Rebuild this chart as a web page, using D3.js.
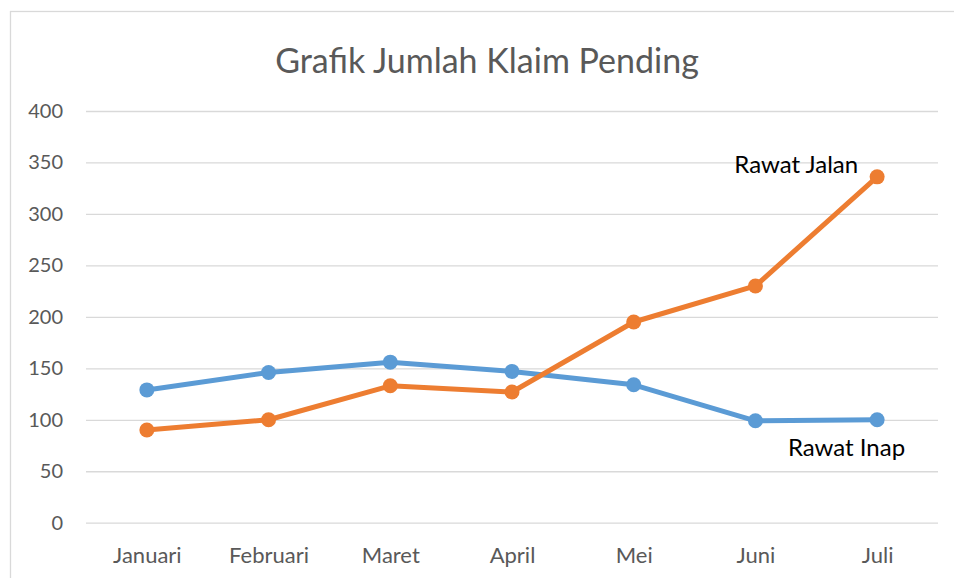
<!DOCTYPE html>
<html>
<head>
<meta charset="utf-8">
<script src="https://cdn.jsdelivr.net/npm/d3@7"></script>
<style>
  body { margin: 0; background: #fff; }
  text { font-family: Lato, "Open Sans", sans-serif; }
</style>
</head>
<body>
<div id="chart"></div>
<script>
// Data
const months = ["Januari", "Februari", "Maret", "April", "Mei", "Juni", "Juli"]
const rawatInap = [129, 146, 156, 147, 134, 99, 100]
const rawatJalan = [90, 100, 133, 127, 195, 230, 336]
const yTicks = [0, 50, 100, 150, 200, 250, 300, 350, 400]

const dimensions = {
    width: 954,
    height: 578,
    margin: { top: 111, right: 16, bottom: 55, left: 86 }
}
dimensions.boundedWidth = dimensions.width - dimensions.margin.left - dimensions.margin.right
dimensions.boundedHeight = 522.7 - dimensions.margin.top

const wrapper = d3.select("#chart")
    .append("svg")
    .attr("width", dimensions.width)
    .attr("height", dimensions.height)

// chart frame
wrapper.append("rect")
    .attr("x", 10.5)
    .attr("y", 11.5)
    .attr("width", 960)
    .attr("height", 600)
    .attr("fill", "#fff")
    .attr("stroke", "#d9d9d9")
    .attr("stroke-width", 1.3)

// title
wrapper.append("text")
    .text("Grafik Jumlah Klaim Pending")
    .attr("x", 487)
    .attr("y", 73)
    .attr("text-anchor", "middle")
    .attr("fill", "#595959")
    .style("font-size", "34px")

const bounds = wrapper.append("g")
    .attr("transform", `translate(${dimensions.margin.left},${dimensions.margin.top})`)

// scales
const xScale = d3.scalePoint()
    .domain(months)
    .range([0, dimensions.boundedWidth])
    .padding(0.5)

const yScale = d3.scaleLinear()
    .domain([0, 400])
    .range([dimensions.boundedHeight, 0])

// gridlines
const yAxisGenerator = d3.axisLeft(yScale)
    .tickValues(yTicks)
    .tickSize(-dimensions.boundedWidth)
    .tickPadding(23)

const yAxis = bounds.append("g").call(yAxisGenerator)
yAxis.select(".domain").remove()
yAxis.selectAll("line").attr("stroke", "#d9d9d9").attr("stroke-width", 1.3)
yAxis.selectAll("text")
    .attr("fill", "#595959")
    .style("font-size", "20px")

// x axis labels
const xAxisGenerator = d3.axisBottom(xScale).tickSize(0).tickPadding(25)
const xAxis = bounds.append("g")
    .attr("transform", `translate(0,${dimensions.boundedHeight})`)
    .call(xAxisGenerator)
xAxis.select(".domain").remove()
xAxis.selectAll("text")
    .attr("fill", "#595959")
    .style("font-size", "22px")

// lines
const lineGenerator = d3.line()
    .x((d, i) => xScale(months[i]))
    .y(d => yScale(d))

const series = [
    { name: "Rawat Inap", values: rawatInap, color: "#5b9bd5" },
    { name: "Rawat Jalan", values: rawatJalan, color: "#ed7d31" }
]

series.forEach(s => {
    bounds.append("path")
        .datum(s.values)
        .attr("d", lineGenerator)
        .attr("fill", "none")
        .attr("stroke", s.color)
        .attr("stroke-width", 5)
        .attr("stroke-linejoin", "round")

    bounds.selectAll(null)
        .data(s.values)
        .join("circle")
        .attr("cx", (d, i) => xScale(months[i]))
        .attr("cy", d => yScale(d))
        .attr("r", 7.5)
        .attr("fill", s.color)
})

// series labels
const last = months.length - 1
bounds.append("text")
    .text("Rawat Jalan")
    .attr("x", xScale(months[last]) - 19)
    .attr("y", yScale(rawatJalan[last]) - 4)
    .attr("text-anchor", "end")
    .attr("fill", "#000")
    .style("font-size", "24px")

bounds.append("text")
    .text("Rawat Inap")
    .attr("x", xScale(months[last]) + 28)
    .attr("y", yScale(rawatInap[last]) + 36)
    .attr("text-anchor", "end")
    .attr("fill", "#000")
    .style("font-size", "24px")
</script>
</body>
</html>
